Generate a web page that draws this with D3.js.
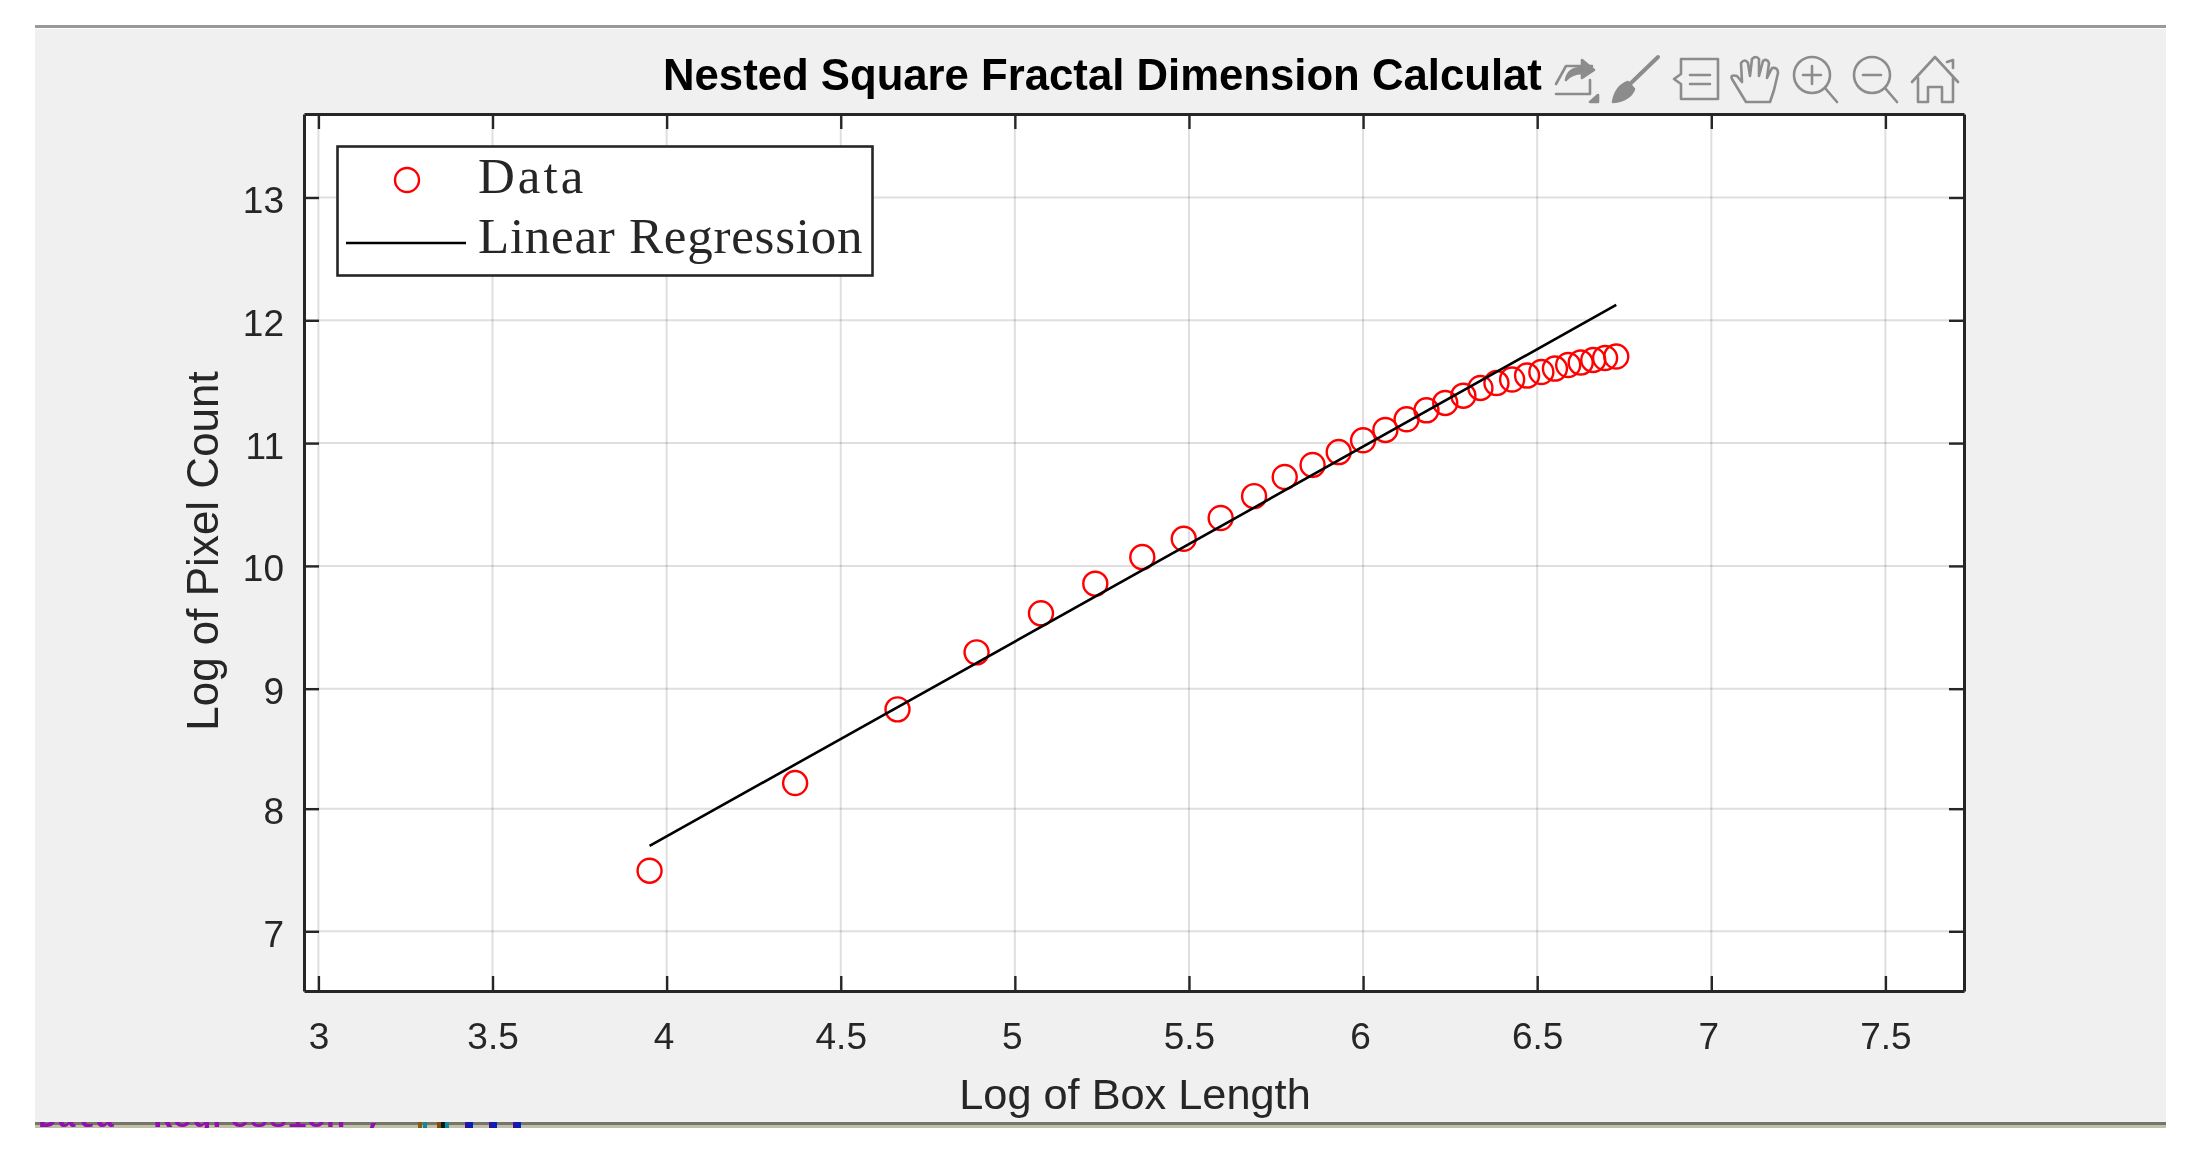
<!DOCTYPE html>
<html>
    <head>
        <style>
            body{
                margin: 0;
                background-color: white;
            }
            svg{
                filter: blur(0.55px);
            }
            text{
                font-family: "Liberation Sans", Arial, sans-serif;
            }
        </style>
        <script src="https://d3js.org/d3.v7.min.js"></script>
    </head>
    <body>
        <script>
            const w = 2193;
            const h = 1164;

            const logBox = [3.951,4.369,4.663,4.890,5.075,5.231,5.366,5.485,5.591,5.687,
                            5.775,5.855,5.930,6.000,6.064,6.125,6.182,6.236,6.288,6.337,
                            6.383,6.428,6.471,6.512,6.551,6.589,6.625,6.661,6.695,6.727];
            const logCount = [7.494,8.214,8.828,9.296,9.614,9.855,10.072,10.221,10.390,10.568,
                              10.724,10.822,10.927,11.023,11.107,11.194,11.267,11.327,11.386,11.449,
                              11.489,11.518,11.550,11.579,11.607,11.636,11.656,11.677,11.693,11.705];
            const fitBox = [3.951,6.727];
            const fitCount = [7.696,12.125];
            const xTicks = [3,3.5,4,4.5,5,5.5,6,6.5,7,7.5];
            const yTicks = [7,8,9,10,11,12,13];
            const legendNames = ["Data","Linear Regression"];
            const titleText = "Nested Square Fractal Dimension Calculat";
            const xLabel = "Log of Box Length";
            const yLabel = "Log of Pixel Count";

            const axLeft = 304, axRight = 1964, axTop = 114, axBottom = 991;
            const dark = "#262626";
            const gridColor = "rgba(38,38,38,0.15)";

            const svg = d3.select("body")
                        .append("svg")
                        .attr("width",w)
                        .attr("height",h)
                        .style("display","block");

            // window behind the axes
            svg.append("rect").attr("x",35).attr("y",29).attr("width",2131).attr("height",1093).attr("fill","#f0f0f0");
            svg.append("rect").attr("x",35).attr("y",25).attr("width",2131).attr("height",3).attr("fill","#999999");
            svg.append("rect").attr("x",35).attr("y",1122).attr("width",2131).attr("height",3).attr("fill","#75756a");
            svg.append("rect").attr("x",35).attr("y",1125).attr("width",2131).attr("height",3).attr("fill","#c0c0a8");

            // sliver of the editor showing under the window
            svg.append("clipPath").attr("id","sliver")
                .append("rect").attr("x",35).attr("y",1122).attr("width",2131).attr("height",6);
            svg.append("text")
                .attr("x",38).attr("y",1127)
                .attr("clip-path","url(#sliver)")
                .attr("fill","#9010b0")
                .attr("font-size",32)
                .attr("font-weight","bold")
                .style("font-family","'Liberation Mono', monospace")
                .text("Data 'Regression',");
            [[418,"#8a5a10"],[423,"#108a9a"],[437,"#8a4a00"],[441,"#001a2a"],[445,"#108a9a"],
             [465,"#3010a0"],[469,"#0020c0"],[489,"#3010a0"],[493,"#0020c0"],[513,"#3010a0"],[517,"#0020c0"]]
                .forEach(m => {
                    svg.append("rect").attr("x",m[0]).attr("y",1122).attr("width",4).attr("height",6).attr("fill",m[1]);
                });

            svg.append("rect")
                .attr("x",axLeft).attr("y",axTop)
                .attr("width",axRight-axLeft).attr("height",axBottom-axTop)
                .attr("fill","white");

            const x = d3.scaleLinear().domain([2.9586,7.7257]).range([axLeft,axRight]);
            // the screenshot is slightly uneven below y=9, so the scale has knots there
            const y = d3.scaleLinear().domain([6.513,7,8,9,13.68]).range([axBottom,931.3,808.7,688.7,axTop]);

            // grid
            svg.append("g").selectAll("line").data(xTicks).enter().append("line")
                .attr("x1",d => x(d)).attr("x2",d => x(d))
                .attr("y1",axTop).attr("y2",axBottom)
                .attr("stroke",gridColor).attr("stroke-width",2);
            svg.append("g").selectAll("line").data(yTicks).enter().append("line")
                .attr("x1",axLeft).attr("x2",axRight)
                .attr("y1",d => y(d)).attr("y2",d => y(d))
                .attr("stroke",gridColor).attr("stroke-width",2);

            // data
            svg.append("g").selectAll("circle").data(logBox).enter().append("circle")
                .attr("cx",d => x(d))
                .attr("cy",(d,i) => y(logCount[i]))
                .attr("r",12)
                .attr("fill","none")
                .attr("stroke","#ff0000")
                .attr("stroke-width",2.4);

            const line = d3.line().x(d => x(d)).y((d,i) => y(fitCount[i]));
            svg.append("path").attr("d",line(fitBox))
                .attr("fill","none").attr("stroke","#000000").attr("stroke-width",2.6);

            // axes, ticks inside on all four sides
            function styleAxis(g){
                g.selectAll(".domain").attr("stroke",dark).attr("stroke-width",3);
                g.selectAll(".tick line").attr("stroke",dark).attr("stroke-width",2.4);
                g.selectAll("text").attr("fill",dark).attr("font-size",37)
                    .style("font-family","'Liberation Sans', Arial, sans-serif");
            }
            const xAxis = svg.append("g").attr("transform",`translate(0,${axBottom})`)
                .call(d3.axisBottom(x).tickValues(xTicks).tickFormat(d3.format("")).tickSizeInner(-15).tickSizeOuter(0).tickPadding(32));
            styleAxis(xAxis);
            // whole numbers from 4 up sit a little left of their tick in the reference
            xAxis.selectAll("text").attr("dx",d => (d >= 4 && Number.isInteger(d)) ? -3 : 0);
            const yAxis = svg.append("g").attr("transform",`translate(${axLeft},0)`)
                .call(d3.axisLeft(y).tickValues(yTicks).tickFormat(d3.format("")).tickSizeInner(-15).tickSizeOuter(0).tickPadding(20));
            styleAxis(yAxis);
            yAxis.selectAll("text").attr("dy",15);
            const topAxis = svg.append("g").attr("transform",`translate(0,${axTop})`)
                .call(d3.axisTop(x).tickValues(xTicks).tickFormat("").tickSizeInner(-15).tickSizeOuter(0));
            styleAxis(topAxis);
            const rightAxis = svg.append("g").attr("transform",`translate(${axRight},0)`)
                .call(d3.axisRight(y).tickValues(yTicks).tickFormat("").tickSizeInner(-15).tickSizeOuter(0));
            styleAxis(rightAxis);

            // titles
            svg.append("text").attr("x",663).attr("y",90)
                .attr("font-size",43.7).attr("font-weight","bold").attr("fill","black")
                .text(titleText);
            svg.append("text").attr("x",1135).attr("y",1109).attr("text-anchor","middle")
                .attr("font-size",43.3).attr("fill",dark)
                .text(xLabel);
            svg.append("text").attr("transform","translate(218.3,551) rotate(-90)").attr("text-anchor","middle")
                .attr("font-size",44).attr("fill",dark)
                .text(yLabel);

            // legend
            const legend = svg.append("g");
            legend.append("rect")
                .attr("x",337.5).attr("y",146.5).attr("width",535).attr("height",129)
                .attr("fill","white").attr("stroke",dark).attr("stroke-width",2.6);
            legend.append("circle").attr("cx",407).attr("cy",180).attr("r",12)
                .attr("fill","none").attr("stroke","#ff0000").attr("stroke-width",2.4);
            legend.append("line").attr("x1",346).attr("x2",466).attr("y1",243).attr("y2",243)
                .attr("stroke","#000000").attr("stroke-width",2.6);
            legend.selectAll("text").data(legendNames).enter().append("text")
                .attr("x",478)
                .attr("y",(d,i) => i == 0 ? 193 : 253)
                .attr("font-size",51)
                .attr("letter-spacing",(d,i) => i == 0 ? 3 : 0.75)
                .attr("fill",dark)
                .style("font-family","'Liberation Serif', serif")
                .text(d => d);

            // figure toolbar
            const tools = svg.append("g")
                .attr("fill","none").attr("stroke","#8c8c8c").attr("stroke-width",2.6)
                .attr("stroke-linecap","round").attr("stroke-linejoin","round");
            tools.append("path").attr("d","M1556 84 L1566 66 L1592 66 M1556 94 L1590 94 L1590 80");
            tools.append("path").attr("d","M1566 80 Q1568 68 1582 68 L1582 60 L1594 70 L1582 78 L1582 73 Q1572 73 1566 80 Z").attr("fill","#8c8c8c");
            tools.append("path").attr("d","M1590 102 L1598 102 L1598 95 Z").attr("fill","#8c8c8c");
            tools.append("path").attr("d","M1658 57 L1630 84").attr("stroke-width",4);
            tools.append("path").attr("d","M1628 82 Q1616 86 1613 102 Q1630 100 1634 89 Z").attr("fill","#8c8c8c");
            tools.append("path").attr("d","M1681 59 L1718 59 L1718 99 L1681 99 L1681 84 L1674 79 L1681 74 Z M1690 75 L1710 75 M1690 84 L1710 84");
            tools.append("path").attr("d","M1746 102 L1732 79 Q1730 74 1737 76 L1742 82 L1741 63 Q1745 58 1748 63 L1750 76 L1752 59 Q1756 55 1759 59 L1759 76 L1763 61 Q1767 58 1769 63 L1767 78 L1772 68 Q1778 67 1778 73 L1774 90 L1770 102 Z");
            tools.append("circle").attr("cx",1812).attr("cy",75).attr("r",18);
            tools.append("path").attr("d","M1825 88 L1837 102 M1803 75 L1821 75 M1812 66 L1812 84");
            tools.append("circle").attr("cx",1872).attr("cy",75).attr("r",18);
            tools.append("path").attr("d","M1885 88 L1897 102 M1863 75 L1881 75");
            tools.append("path").attr("d","M1912 82 L1935 57 L1958 82 M1918 78 L1918 102 L1928 102 L1928 87 L1942 87 L1942 102 L1953 102 L1953 78 M1947 62 L1953 60 L1953 68");
        </script>
    </body>
</html>
